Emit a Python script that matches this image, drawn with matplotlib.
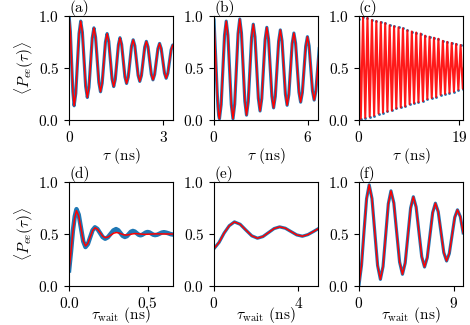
import matplotlib
matplotlib.use('Agg')
import matplotlib.pyplot as plt

plt.rcParams['font.family'] = 'serif'
plt.rcParams['font.serif'] = ['cmr10']
plt.rcParams['mathtext.fontset'] = 'cm'
plt.rcParams['axes.formatter.use_mathtext'] = True
plt.rcParams['font.size'] = 11

# (a) tau in ns, <P_ee>
a_time = [0.0, 0.04, 0.08, 0.12, 0.16, 0.2125, 0.265, 0.3175, 0.37, 0.4225, 0.475, 0.5275, 0.58,
          0.6325, 0.685, 0.7375, 0.79, 0.8425, 0.895, 0.9475, 1.00, 1.0525, 1.105, 1.1575, 1.21,
          1.2625, 1.315, 1.3675, 1.42, 1.47, 1.52, 1.57, 1.62, 1.6725, 1.725, 1.7775, 1.83,
          1.8825, 1.935, 1.9875, 2.04, 2.0925, 2.145, 2.1975, 2.25, 2.3025, 2.355, 2.4075, 2.46,
          2.5125, 2.565, 2.6175, 2.67, 2.7225, 2.775, 2.8275, 2.88, 2.9325, 2.985, 3.0375, 3.09,
          3.1425, 3.195, 3.2475, 3.30, 3.35]
a_pee = [1.0, 0.85, 0.55, 0.27, 0.135, 0.254, 0.5425, 0.831, 0.95, 0.843, 0.583, 0.323, 0.215,
         0.313, 0.55, 0.787, 0.885, 0.795, 0.578, 0.36, 0.27, 0.352, 0.55, 0.748, 0.83,
         0.756, 0.575, 0.394, 0.32, 0.389, 0.555, 0.721, 0.79, 0.726, 0.57, 0.414, 0.35,
         0.411, 0.56, 0.709, 0.77, 0.712, 0.57, 0.428, 0.37, 0.426, 0.5625, 0.699, 0.755,
         0.701, 0.57, 0.439, 0.385, 0.436, 0.56, 0.684, 0.735, 0.686, 0.568, 0.449, 0.40,
         0.447, 0.56, 0.673, 0.72, 0.71]

# (b)
b_time = [0.0, 0.05, 0.10, 0.15, 0.20, 0.25, 0.30, 0.347, 0.455, 0.563, 0.671, 0.779, 0.887, 0.995,
          1.103, 1.211, 1.319, 1.427, 1.535, 1.643, 1.751, 1.859, 1.967, 2.075, 2.183, 2.291,
          2.399, 2.507, 2.615, 2.723, 2.831, 2.939, 3.047, 3.155, 3.263, 3.371, 3.479, 3.587,
          3.695, 3.803, 3.911, 4.019, 4.127, 4.235, 4.343, 4.451, 4.559, 4.667, 4.775, 4.883,
          4.991, 5.099, 5.207, 5.315, 5.423, 5.531, 5.639, 5.747, 5.855, 5.963, 6.071, 6.179,
          6.287, 6.395, 6.503, 6.611, 6.719]
b_pee = [0.96, 0.78, 0.616, 0.437, 0.267, 0.128, 0.039, 0.01, 0.147, 0.48, 0.813, 0.95, 0.813, 0.48,
         0.147, 0.01, 0.15, 0.49, 0.83, 0.97, 0.835, 0.508, 0.18, 0.045, 0.173, 0.483,
         0.792, 0.92, 0.798, 0.503, 0.207, 0.085, 0.203, 0.488, 0.772, 0.89, 0.777, 0.503,
         0.228, 0.115, 0.224, 0.49, 0.756, 0.865, 0.759, 0.503, 0.246, 0.14, 0.241, 0.488,
         0.734, 0.835, 0.738, 0.503, 0.267, 0.17, 0.262, 0.485, 0.708, 0.80, 0.711, 0.495,
         0.279, 0.19, 0.275, 0.48, 0.685]

# (c)
c_time = [0.00, 0.14, 0.35, 0.56, 0.77, 0.98, 1.19, 1.40, 1.61, 1.82, 2.03, 2.24, 2.45, 2.66, 2.87,
          3.08, 3.29, 3.50, 3.71, 3.92, 4.13, 4.34, 4.55, 4.76, 4.97, 5.18, 5.39, 5.60, 5.81,
          6.02, 6.23, 6.44, 6.65, 6.86, 7.07, 7.28, 7.49, 7.70, 7.91, 8.12, 8.33, 8.54, 8.75,
          8.96, 9.17, 9.38, 9.59, 9.80, 10.01, 10.22, 10.43, 10.64, 10.85, 11.06, 11.27, 11.48,
          11.69, 11.90, 12.11, 12.32, 12.53, 12.74, 12.95, 13.16, 13.37, 13.58, 13.79, 14.00,
          14.21, 14.42, 14.63, 14.84, 15.05, 15.26, 15.47, 15.68, 15.89, 16.10, 16.31, 16.52,
          16.73, 16.94, 17.15, 17.36, 17.57, 17.78, 17.99, 18.20, 18.41, 18.62, 18.83, 19.04,
          19.25, 19.46, 19.67, 19.88]
c_pee = [0.97, 0.50, 0.01, 0.50, 0.99, 0.50, 0.02, 0.50, 0.98, 0.50, 0.03, 0.50, 0.96, 0.50, 0.04,
         0.50, 0.95, 0.50, 0.06, 0.50, 0.94, 0.50, 0.07, 0.50, 0.93, 0.50, 0.08, 0.50, 0.91,
         0.50, 0.09, 0.50, 0.90, 0.50, 0.11, 0.50, 0.89, 0.50, 0.12, 0.50, 0.88, 0.50, 0.13,
         0.50, 0.86, 0.50, 0.15, 0.50, 0.85, 0.50, 0.16, 0.50, 0.84, 0.50, 0.17, 0.50,
         0.83, 0.50, 0.18, 0.50, 0.81, 0.50, 0.20, 0.50, 0.80, 0.50, 0.21, 0.50,
         0.79, 0.50, 0.22, 0.50, 0.78, 0.50, 0.24, 0.50, 0.76, 0.50, 0.25, 0.50,
         0.75, 0.50, 0.26, 0.50, 0.74, 0.50, 0.27, 0.50, 0.73, 0.50, 0.29, 0.50,
         0.72, 0.50, 0.30, 0.50]

# (d) tau_wait in ns; simulation (blue) and model (red) differ here
d_time = [0.0, 0.012, 0.024, 0.036, 0.047, 0.061, 0.0755, 0.090, 0.104, 0.119, 0.134, 0.149, 0.164,
          0.180, 0.1965, 0.213, 0.229, 0.246, 0.2635, 0.281, 0.298, 0.312, 0.326, 0.340, 0.354,
          0.367, 0.3795, 0.392, 0.405, 0.417, 0.429, 0.441, 0.453, 0.464, 0.4755, 0.487, 0.498,
          0.510, 0.522, 0.534, 0.546, 0.560, 0.574, 0.588, 0.602, 0.616, 0.631, 0.645, 0.66]
d_pee = [0.15, 0.33, 0.53, 0.67, 0.74, 0.687, 0.558, 0.429, 0.375, 0.403, 0.47, 0.537, 0.565,
         0.549, 0.51, 0.471, 0.455, 0.469, 0.502, 0.535, 0.548, 0.537, 0.51, 0.483, 0.472,
         0.48, 0.501, 0.522, 0.53, 0.524, 0.509, 0.494, 0.488, 0.493, 0.504, 0.515, 0.52,
         0.516, 0.505, 0.494, 0.49, 0.494, 0.504, 0.514, 0.518, 0.514, 0.507, 0.499, 0.495]
d_fit_time = [0.0, 0.012, 0.024, 0.036, 0.047, 0.061, 0.0755, 0.090, 0.104, 0.119, 0.1345, 0.150,
              0.165, 0.181, 0.1975, 0.214, 0.23, 0.2475, 0.265, 0.2825, 0.30, 0.315, 0.33, 0.345,
              0.36, 0.375, 0.39, 0.405, 0.42, 0.45, 0.48, 0.55, 0.66]
d_fit_pee = [0.15, 0.33, 0.52, 0.66, 0.725, 0.675, 0.555, 0.435, 0.385, 0.41, 0.4725, 0.535,
             0.56, 0.546, 0.5125, 0.479, 0.465, 0.472, 0.49, 0.508, 0.515, 0.511, 0.5025, 0.494,
             0.49, 0.493, 0.4975, 0.502, 0.505, 0.501, 0.497, 0.502, 0.50]

# (e)
e_time = [0.0, 0.24, 0.48, 0.72, 0.967, 1.24, 1.51, 1.79, 2.06, 2.32, 2.585, 2.85, 3.11, 3.38, 3.65,
          3.92, 4.19, 4.455, 4.72, 4.93]
e_pee = [0.36, 0.42, 0.51, 0.58, 0.617, 0.594, 0.5385, 0.483, 0.46, 0.476, 0.5145, 0.553, 0.569,
         0.556, 0.524, 0.492, 0.479, 0.495, 0.525, 0.55]

# (f)
f_time = [0.0, 0.24, 0.48, 0.72, 0.966, 1.232, 1.498, 1.764, 2.03, 2.28, 2.53, 2.78, 3.03, 3.3025,
          3.575, 3.8475, 4.12, 4.3775, 4.635, 4.8925, 5.15, 5.415, 5.68, 5.945, 6.21, 6.4675,
          6.725, 6.9825, 7.24, 7.505, 7.77, 8.035, 8.30, 8.5575, 8.815, 9.0725, 9.33, 9.60, 9.87]
f_pee = [0.01, 0.2, 0.53, 0.84, 0.974, 0.841, 0.519, 0.197, 0.064, 0.188, 0.49, 0.792, 0.916, 0.799,
         0.5145, 0.231, 0.113, 0.222, 0.486, 0.75, 0.859, 0.76, 0.521, 0.282, 0.183, 0.273,
         0.49, 0.707, 0.797, 0.716, 0.519, 0.322, 0.241, 0.313, 0.487, 0.661, 0.733, 0.668, 0.5115]

x_max = [3.31, 6.64, 19.7, 0.66, 4.93, 9.85]
x_ticks = [[0, 3], [0, 6], [0, 19], [0.0, 0.5], [0, 4], [0, 9]]
panel_labels = ['(a)', '(b)', '(c)', '(d)', '(e)', '(f)']

blue = '#1f77b4'
red = '#ff0000'

fig, axes = plt.subplots(2, 3, figsize=(4.7, 3.25), dpi=100)
fig.subplots_adjust(left=0.147, right=0.985, bottom=0.12, top=0.951, wspace=0.394, hspace=0.6)
axes = axes.flatten()

axes[0].plot(a_time, a_pee, color=blue, lw=2.3)
axes[0].plot(a_time, a_pee, color=red, lw=1.1)
axes[1].plot(b_time, b_pee, color=blue, lw=2.3)
axes[1].plot(b_time, b_pee, color=red, lw=1.1)
# only the extremes of (c) get blue dots, the mid crossings would form a solid row
axes[2].plot(c_time[::2], c_pee[::2], 'o', color=blue, ms=2, mew=0)
axes[2].plot(c_time, c_pee, color=red, lw=1.5, alpha=0.9)
axes[3].plot(d_time, d_pee, color=blue, lw=3.2)
axes[3].plot(d_fit_time, d_fit_pee, color=red, lw=1.1)
axes[4].plot(e_time, e_pee, color=blue, lw=2.3)
axes[4].plot(e_time, e_pee, color=red, lw=1.1)
axes[5].plot(f_time, f_pee, color=blue, lw=2.3)
axes[5].plot(f_time, f_pee, color=red, lw=1.1)

for i in range(6):
    ax = axes[i]
    ax.set_xlim(0, x_max[i])
    ax.set_ylim(0, 1)
    ax.set_xticks(x_ticks[i])
    ax.set_yticks([0.0, 0.5, 1.0])
    ax.text(0, 1.0, panel_labels[i], transform=ax.transAxes, ha='left', va='bottom')
    if i < 3:
        ax.set_xlabel(r'$\tau$ (ns)', labelpad=1)
    else:
        ax.set_xlabel(r'$\tau_{\rm wait}$ (ns)', labelpad=-4)
    if i % 3 == 0:
        ax.set_ylabel(r'$\langle P_{ee}(\tau)\rangle$', labelpad=2)

fig.savefig('out.png', dpi=100)
